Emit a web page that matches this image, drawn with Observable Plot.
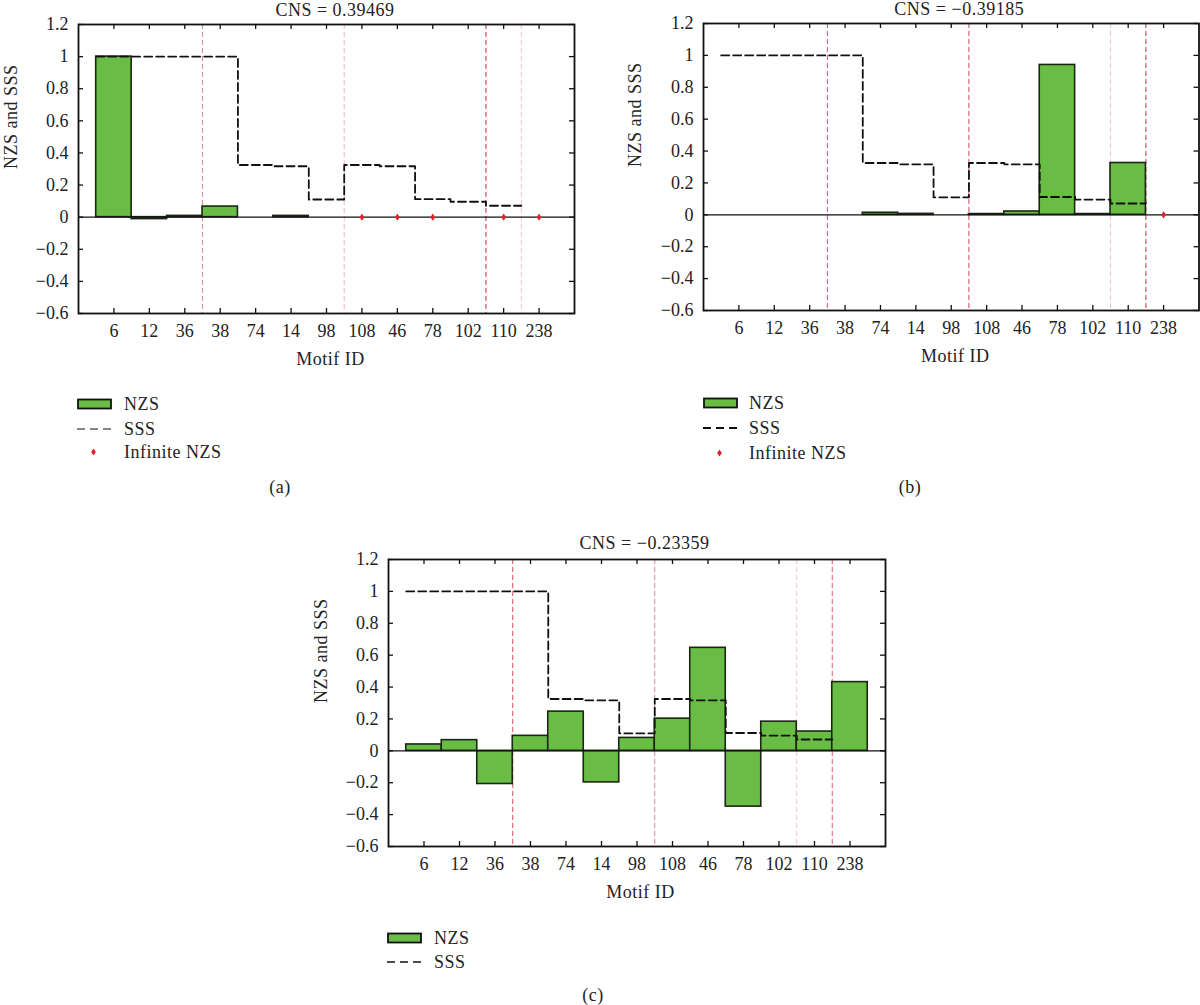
<!DOCTYPE html>
<html>
<head>
<meta charset="utf-8">
<script src="https://cdn.jsdelivr.net/npm/d3@7"></script>
<script src="https://cdn.jsdelivr.net/npm/@observablehq/plot@0.6"></script>
<style>
  body { margin: 0; background: #fff; }
  #page { position: relative; width: 1200px; height: 1005px; overflow: hidden;
          font-family: "Liberation Serif", "Times New Roman", serif; color: #222; }
  .panel { position: absolute; }
  .lg { position: absolute; font-size: 18px; line-height: 24px; white-space: nowrap; letter-spacing: 0.5px; }
  .sw { position: absolute; }
  .cap { position: absolute; font-size: 18px; line-height: 24px; transform: translate(-50%, -50%); letter-spacing: 0.5px; }
</style>
</head>
<body>
<div id="page"></div>
<script>
// ---------------- data ----------------
const motifs = ["6", "12", "36", "38", "74", "14", "98", "108", "46", "78", "102", "110", "238"];
const sss = [1, 1, 1, 1, 0.325, 0.317, 0.11, 0.325, 0.317, 0.112, 0.096, 0.071, null];
// Infinity = "Infinite NZS", 0 = no bar
const nzsA = [1.0, -0.012, 0.008, 0.066, 0, 0.008, 0, Infinity, Infinity, Infinity, 0, Infinity, Infinity];
const nzsB = [0, 0, 0, 0, 0.013, 0.006, 0, 0.005, 0.021, 0.94, 0.005, 0.325, Infinity];
const nzsC = [0.04, 0.067, -0.208, 0.094, 0.246, -0.198, 0.081, 0.202, 0.646, -0.35, 0.183, 0.121, 0.431];
const titles = ["CNS = 0.39469", "CNS = \u22120.39185", "CNS = \u22120.23359"];
const captions = ["(a)", "(b)", "(c)"];
const sepAfter = ["36", "98", "102", "110"];   // group separators lie after these motifs
const yTicks = [-0.6, -0.4, -0.2, 0, 0.2, 0.4, 0.6, 0.8, 1, 1.2];
const xLabel = "Motif ID";
const yLabel = "NZS and SSS";
const legendNames = ["NZS", "SSS", "Infinite NZS"];

// ---------------- style ----------------
const GREEN = "#69bd45";
const BAR_STROKE = "#1c2614";
const DIAMOND = "#e3222b";
const tallDiamond = {
  draw(ctx) { ctx.moveTo(0, -3.6); ctx.lineTo(2.4, 0); ctx.lineTo(0, 3.6); ctx.lineTo(-2.4, 0); ctx.closePath(); }
};
const fmt = d => String(+(+d).toFixed(1)).replace("-", "\u2212");

function panel(cfg) {
  const {nzs, title, sepColors, left, top, width, height, ml, mr, mt, mb, titleDx, titleDy, ylabDx, xlabDx} = cfg;
  const W = width - ml - mr, H = height - mt - mb;
  const rows = motifs.map((m, i) => ({i, m, v: nzs[i]}));
  const bars = rows.filter(d => Number.isFinite(d.v) && d.v !== 0);
  const inf = rows.filter(d => d.v === Infinity);
  const sssPts = [];
  sss.forEach((v, i) => { if (v != null) sssPts.push({x: i + 0.5, y: v}, {x: i + 1.5, y: v}); });
  const seps = sepAfter.map((m, k) => ({x: motifs.indexOf(m) + 1.5, color: sepColors[k]}));
  const xPos = motifs.map((m, i) => i + 1);

  const chart = Plot.plot({
    width, height,
    marginLeft: ml, marginRight: mr, marginTop: mt, marginBottom: mb,
    x: {domain: [0, motifs.length + 1]},
    y: {domain: [yTicks[0], yTicks[yTicks.length - 1]]},
    color: {type: "identity"},
    style: {fontFamily: "'Liberation Serif', 'Times New Roman', serif", fontSize: "18px", color: "#222", background: "transparent", overflow: "visible"},
    marks: [
      Plot.ruleX(seps, {x: "x", stroke: "color", strokeWidth: 1, strokeDasharray: "5,3"}),
      Plot.rect(bars, {x1: d => d.i + 0.5, x2: d => d.i + 1.5, y1: 0, y2: "v",
                       fill: GREEN, stroke: BAR_STROKE, strokeWidth: 1.6}),
      Plot.ruleY([0], {stroke: "#111", strokeWidth: 1.3}),
      Plot.line(sssPts, {x: "x", y: "y", stroke: "#111", strokeWidth: 1.8, strokeDasharray: "8,4"}),
      Plot.dot(inf, {x: d => d.i + 1, y: 0, symbol: tallDiamond, fill: DIAMOND, stroke: "none", r: 3}),
      Plot.tickY(yTicks, {y: d => d, insetRight: W - 5, stroke: "#111", strokeWidth: 1.3}),
      Plot.tickY(yTicks, {y: d => d, insetLeft: W - 5, stroke: "#111", strokeWidth: 1.3}),
      Plot.tickX(xPos, {x: d => d, insetTop: H - 5, stroke: "#111", strokeWidth: 1.3}),
      Plot.tickX(xPos, {x: d => d, insetBottom: H - 5, stroke: "#111", strokeWidth: 1.3}),
      Plot.axisY({ticks: yTicks, tickSize: 0, tickPadding: 10, tickFormat: fmt, label: null}),
      Plot.axisX({ticks: xPos, tickSize: 0, tickPadding: 11, tickFormat: d => motifs[Math.round(d) - 1], label: null}),
      Plot.frame({stroke: "#111", strokeWidth: 1.8}),
      Plot.text([title], {frameAnchor: "top", lineAnchor: "bottom", dy: titleDy, dx: titleDx}),
      Plot.text([xLabel], {frameAnchor: "bottom", lineAnchor: "middle", dy: 46, dx: xlabDx}),
      Plot.text([yLabel], {frameAnchor: "left", lineAnchor: "middle", rotate: -90, dx: ylabDx})
    ]
  });
  d3.select(chart).selectAll('g[aria-label="text"]').style("letter-spacing", "0.5px");
  const div = document.createElement("div");
  div.className = "panel";
  div.style.left = left + "px";
  div.style.top = top + "px";
  div.appendChild(chart);
  document.getElementById("page").appendChild(div);
}

panel({nzs: nzsA, title: titles[0], sepColors: ["#dc8592", "#eeb7c0", "#b4303f", "#f0c4ca"],
       left: 0, top: 0, width: 600, height: 380, ml: 78, mr: 26, mt: 24, mb: 67,
       titleDx: 8.5, titleDy: -9, ylabDx: -67.5, xlabDx: 4});
panel({nzs: nzsB, title: titles[1], sepColors: ["#d0566a", "#c8445a", "#f0bcc4", "#c0303f"],
       left: 600, top: 0, width: 600, height: 380, ml: 103, mr: 1.5, mt: 23, mb: 70,
       titleDx: 8, titleDy: -8.5, ylabDx: -68, xlabDx: 4});
panel({nzs: nzsC, title: titles[2], sepColors: ["#d04a5c", "#e0808e", "#f2c0c8", "#d85a6a"],
       left: 300, top: 520, width: 600, height: 380, ml: 88, mr: 15, mt: 39, mb: 54,
       titleDx: 7.5, titleDy: -10.7, ylabDx: -67, xlabDx: 3.5});

// ---------------- legends & captions ----------------
const page = document.getElementById("page");
function legend({swLeft, textLeft, centers, items, sssWidth}) {
  items.forEach((name, k) => {
    const cy = centers[k];
    const sw = document.createElementNS("http://www.w3.org/2000/svg", "svg");
    sw.setAttribute("class", "sw");
    sw.setAttribute("width", 38); sw.setAttribute("height", 24);
    sw.style.left = swLeft + "px"; sw.style.top = (cy - 12) + "px";
    if (name === "NZS") {
      sw.innerHTML = `<rect x="1" y="7.5" width="33" height="9" fill="${GREEN}" stroke="#111" stroke-width="1.8"/>`;
    } else if (name === "SSS") {
      sw.innerHTML = `<line x1="0" x2="34" y1="12" y2="12" stroke="#111" stroke-width="${sssWidth}" stroke-dasharray="8,5"/>`;
    } else {
      sw.innerHTML = `<path transform="translate(16.5,12)" d="M0,-3.6L2.4,0L0,3.6L-2.4,0Z" fill="${DIAMOND}"/>`;
    }
    page.appendChild(sw);
    const t = document.createElement("div");
    t.className = "lg";
    t.textContent = name;
    t.style.left = textLeft + "px";
    t.style.top = (cy - 12) + "px";
    page.appendChild(t);
  });
}
legend({swLeft: 77, textLeft: 124, centers: [404, 428.5, 452], items: legendNames, sssWidth: 1.2});
legend({swLeft: 702.5, textLeft: 749, centers: [403, 428, 452.5], items: legendNames, sssWidth: 2});
legend({swLeft: 387, textLeft: 434, centers: [937.5, 961.7], items: legendNames.slice(0, 2), sssWidth: 1.7});

[[captions[0], 280, 487], [captions[1], 910, 487.3], [captions[2], 593, 995]].forEach(([txt, x, y]) => {
  const c = document.createElement("div");
  c.className = "cap";
  c.textContent = txt;
  c.style.left = x + "px";
  c.style.top = y + "px";
  page.appendChild(c);
});
</script>
</body>
</html>
